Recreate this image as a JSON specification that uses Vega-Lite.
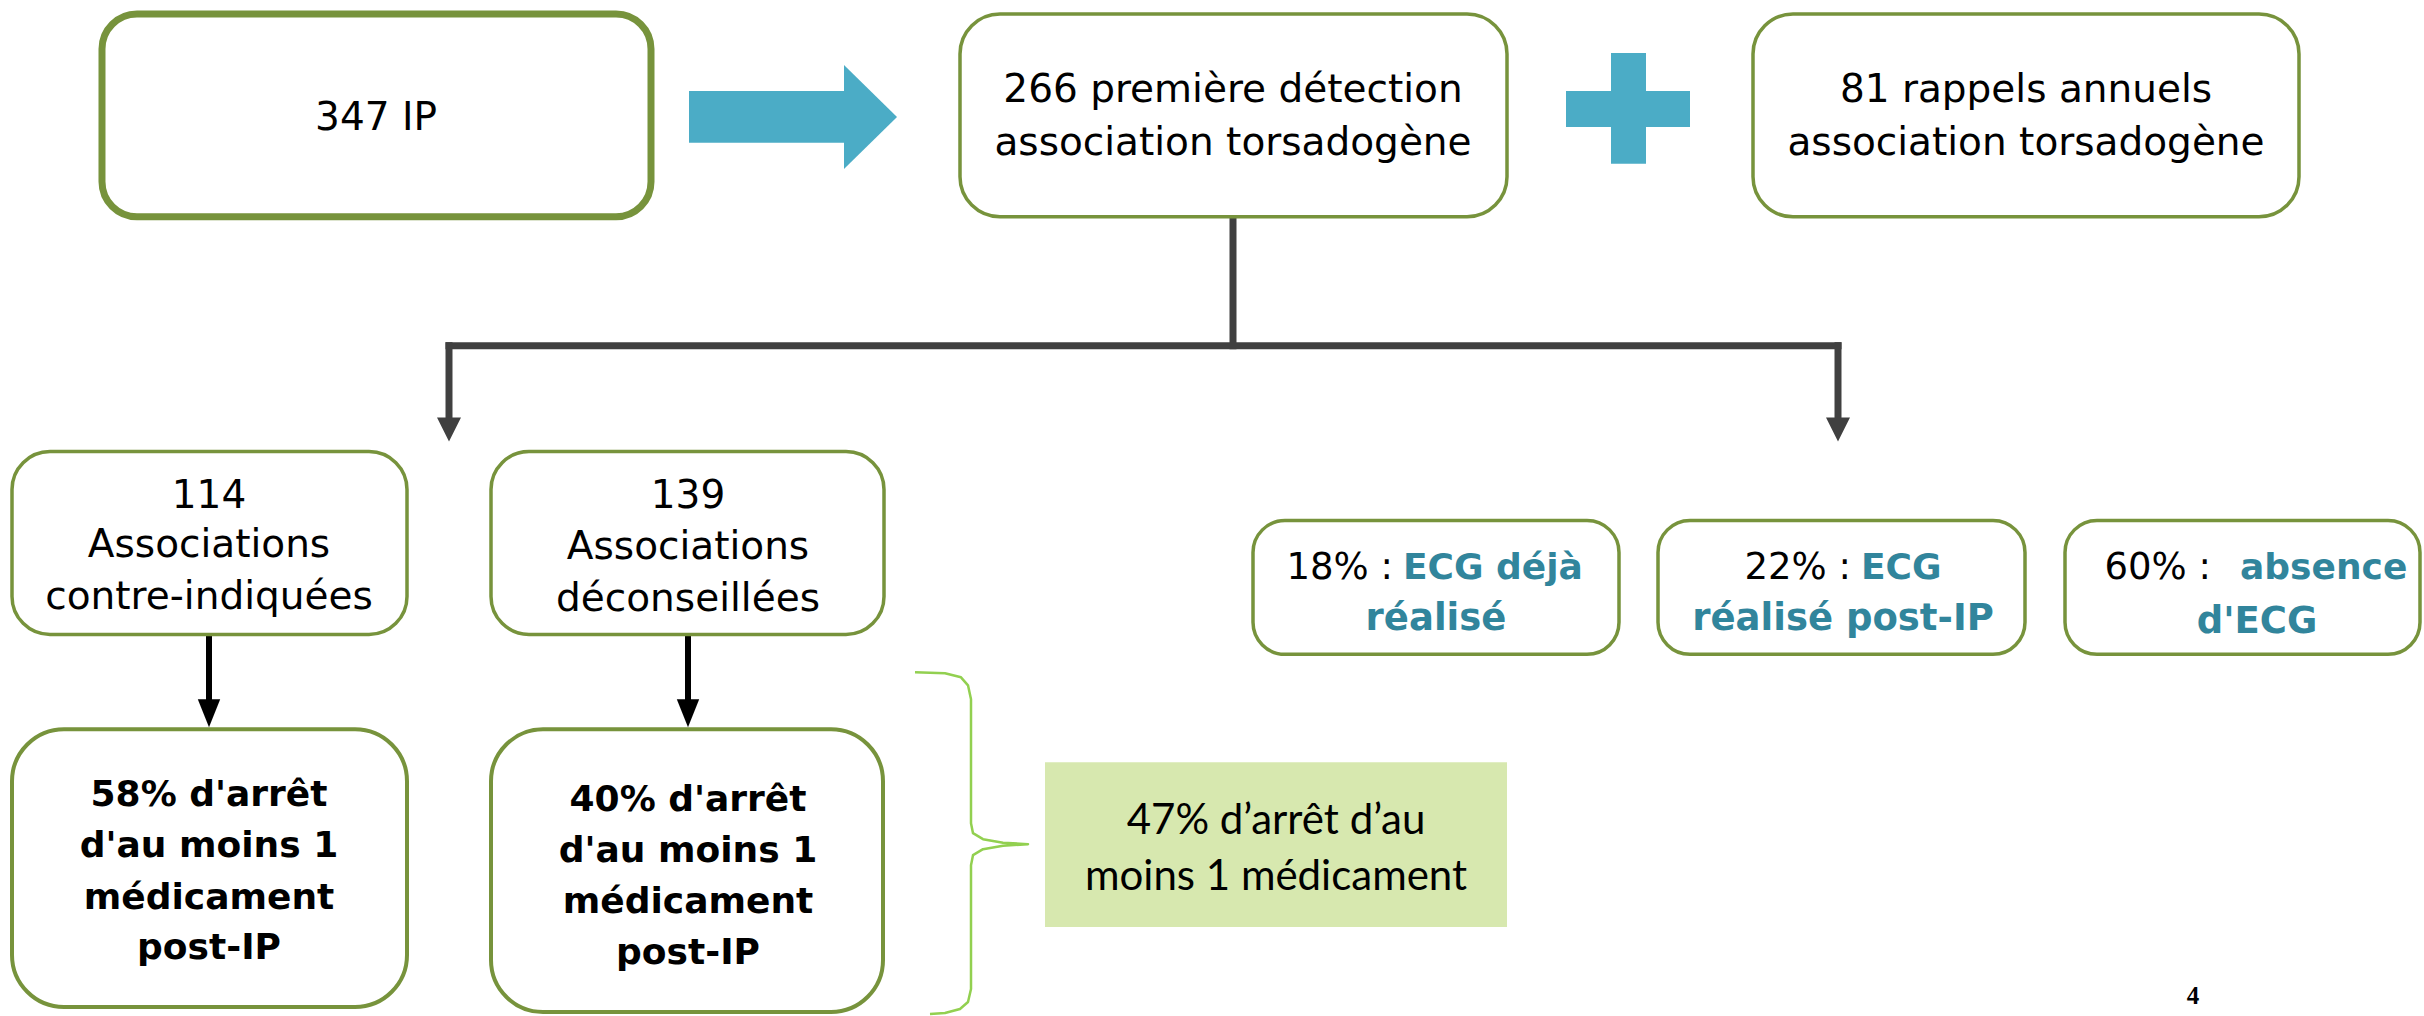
{
  "$schema": "https://vega.github.io/schema/vega-lite/v6.json",
  "width": 2424,
  "height": 1016,
  "autosize": {"type": "fit", "contains": "padding"},
  "padding": 0,
  "background": "white",
  "config": {"view": {"stroke": null}},
  "datasets": {
    "boxes": [
      {"id": "ip", "x": 102, "x2": 651, "y": 14, "y2": 217, "kind": "main"},
      {"id": "first", "x": 960, "x2": 1507, "y": 14, "y2": 217, "kind": "top"},
      {"id": "rappels", "x": 1753, "x2": 2299, "y": 14, "y2": 217, "kind": "top"},
      {"id": "ci", "x": 12, "x2": 407, "y": 452, "y2": 635, "kind": "mid"},
      {"id": "dec", "x": 491, "x2": 884, "y": 452, "y2": 635, "kind": "mid"},
      {"id": "arret_ci", "x": 12, "x2": 407, "y": 730, "y2": 1008, "kind": "bottom"},
      {"id": "arret_dec", "x": 491, "x2": 883, "y": 730, "y2": 1013, "kind": "bottom"},
      {"id": "ecg_deja", "x": 1253, "x2": 1619, "y": 521, "y2": 655, "kind": "ecg"},
      {"id": "ecg_post", "x": 1658, "x2": 2025, "y": 521, "y2": 655, "kind": "ecg"},
      {"id": "ecg_absence", "x": 2065, "x2": 2420, "y": 521, "y2": 655, "kind": "ecg"},
      {"id": "total", "x": 1045, "x2": 1507, "y": 763, "y2": 928, "kind": "summary"},
      {"id": "arrow_shaft", "x": 689, "x2": 846, "y": 91, "y2": 143, "kind": "blue"},
      {"id": "plus_v", "x": 1611, "x2": 1646, "y": 53, "y2": 164, "kind": "blue"},
      {"id": "plus_h", "x": 1566, "x2": 1690, "y": 91, "y2": 127, "kind": "blue"}
    ],
    "rules": [
      {"x": 1233, "y": 217, "x2": 1233, "y2": 346, "kind": "gray"},
      {"x": 449, "y": 346, "x2": 1838, "y2": 346, "kind": "gray"},
      {"x": 449, "y": 346, "x2": 449, "y2": 424, "kind": "gray"},
      {"x": 1838, "y": 346, "x2": 1838, "y2": 424, "kind": "gray"},
      {"x": 209, "y": 636, "x2": 209, "y2": 706, "kind": "black"},
      {"x": 688, "y": 636, "x2": 688, "y2": 706, "kind": "black"}
    ],
    "heads": [
      {"x": 449, "y": 430, "kind": "gray"},
      {"x": 1838, "y": 430, "kind": "gray"},
      {"x": 209, "y": 714, "kind": "black"},
      {"x": 688, "y": 714, "kind": "black"},
      {"x": 870.5, "y": 117, "kind": "blue"}
    ],
    "brace": [
      {"i": 0, "x": 915, "y": 673},
      {"i": 1, "x": 945, "y": 674},
      {"i": 2, "x": 961, "y": 678},
      {"i": 3, "x": 968, "y": 686},
      {"i": 4, "x": 971, "y": 700},
      {"i": 5, "x": 971, "y": 824},
      {"i": 6, "x": 973, "y": 834},
      {"i": 7, "x": 983, "y": 840},
      {"i": 8, "x": 1003, "y": 843.5},
      {"i": 9, "x": 1028, "y": 845},
      {"i": 10, "x": 1003, "y": 846.5},
      {"i": 11, "x": 983, "y": 850},
      {"i": 12, "x": 973, "y": 856},
      {"i": 13, "x": 971, "y": 866},
      {"i": 14, "x": 971, "y": 990},
      {"i": 15, "x": 968, "y": 1003},
      {"i": 16, "x": 960, "y": 1010},
      {"i": 17, "x": 945, "y": 1014},
      {"i": 18, "x": 930, "y": 1015}
    ],
    "texts": [
      {"x": 376, "y": 130, "text": "347 IP", "kind": "reg"},
      {"x": 1233, "y": 102, "text": "266 première détection", "kind": "reg"},
      {"x": 1233, "y": 155, "text": "association torsadogène", "kind": "reg"},
      {"x": 2026, "y": 102, "text": "81 rappels annuels", "kind": "reg"},
      {"x": 2026, "y": 155, "text": "association torsadogène", "kind": "reg"},
      {"x": 209, "y": 508, "text": "114", "kind": "reg"},
      {"x": 209, "y": 558, "text": "Associations", "kind": "reg"},
      {"x": 209, "y": 610, "text": "contre-indiquées", "kind": "reg"},
      {"x": 688, "y": 509, "text": "139", "kind": "reg"},
      {"x": 688, "y": 560, "text": "Associations", "kind": "reg"},
      {"x": 688, "y": 612, "text": "déconseillées", "kind": "reg"},
      {"x": 209, "y": 807, "text": "58% d'arrêt", "kind": "bold"},
      {"x": 209, "y": 858, "text": "d'au moins 1", "kind": "bold"},
      {"x": 209, "y": 910, "text": "médicament", "kind": "bold"},
      {"x": 209, "y": 960, "text": "post-IP", "kind": "bold"},
      {"x": 688, "y": 812, "text": "40% d'arrêt", "kind": "bold"},
      {"x": 688, "y": 863, "text": "d'au moins 1", "kind": "bold"},
      {"x": 688, "y": 914, "text": "médicament", "kind": "bold"},
      {"x": 688, "y": 965, "text": "post-IP", "kind": "bold"},
      {"x": 1276, "y": 835, "text": "47% d’arrêt d’au", "kind": "summary"},
      {"x": 1276, "y": 891, "text": "moins 1 médicament", "kind": "summary"},
      {"x": 1393, "y": 580, "text": "18% :", "kind": "ecgBlack"},
      {"x": 1851, "y": 580, "text": "22% :", "kind": "ecgBlack"},
      {"x": 2211, "y": 580, "text": "60% :", "kind": "ecgBlack"},
      {"x": 1403, "y": 580, "text": "ECG déjà", "kind": "ecgTealL"},
      {"x": 1861, "y": 580, "text": "ECG", "kind": "ecgTealL"},
      {"x": 2240, "y": 580, "text": "absence", "kind": "ecgTealL"},
      {"x": 1436, "y": 631, "text": "réalisé", "kind": "ecgTealC"},
      {"x": 1843, "y": 631, "text": "réalisé post-IP", "kind": "ecgTealC"},
      {"x": 2257, "y": 634, "text": "d'ECG", "kind": "ecgTealC"},
      {"x": 2193, "y": 1005, "text": "4", "kind": "page"}
    ]
  },
  "encoding": {
    "x": {"field": "x", "type": "quantitative", "scale": {"domain": [0, 2424], "nice": false, "zero": false}, "axis": null},
    "y": {"field": "y", "type": "quantitative", "scale": {"domain": [0, 1016], "nice": false, "zero": false, "reverse": true}, "axis": null}
  },
  "layer": [
    {
      "data": {"name": "boxes"},
      "transform": [{"filter": "datum.kind === 'summary'"}],
      "mark": {"type": "rect", "fill": "#D7E8AF", "strokeWidth": 0},
      "encoding": {"x2": {"field": "x2"}, "y2": {"field": "y2"}}
    },
    {
      "data": {"name": "brace"},
      "mark": {"type": "line", "stroke": "#92D050", "strokeWidth": 2.5, "strokeJoin": "round"},
      "encoding": {"order": {"field": "i", "type": "quantitative"}}
    },
    {
      "data": {"name": "rules"},
      "transform": [{"filter": "datum.kind === 'gray'"}],
      "mark": {"type": "rule", "stroke": "#404040", "strokeWidth": 7, "strokeCap": "square"},
      "encoding": {"x2": {"field": "x2"}, "y2": {"field": "y2"}}
    },
    {
      "data": {"name": "rules"},
      "transform": [{"filter": "datum.kind === 'black'"}],
      "mark": {"type": "rule", "stroke": "#000000", "strokeWidth": 6},
      "encoding": {"x2": {"field": "x2"}, "y2": {"field": "y2"}}
    },
    {
      "data": {"name": "boxes"},
      "transform": [{"filter": "datum.kind === 'main'"}],
      "mark": {"type": "rect", "fill": "white", "stroke": "#77933C", "strokeWidth": 7, "cornerRadius": 35},
      "encoding": {"x2": {"field": "x2"}, "y2": {"field": "y2"}}
    },
    {
      "data": {"name": "boxes"},
      "transform": [{"filter": "datum.kind === 'top'"}],
      "mark": {"type": "rect", "fill": "white", "stroke": "#77933C", "strokeWidth": 3.5, "cornerRadius": 40},
      "encoding": {"x2": {"field": "x2"}, "y2": {"field": "y2"}}
    },
    {
      "data": {"name": "boxes"},
      "transform": [{"filter": "datum.kind === 'mid'"}],
      "mark": {"type": "rect", "fill": "white", "stroke": "#77933C", "strokeWidth": 3.5, "cornerRadius": 38},
      "encoding": {"x2": {"field": "x2"}, "y2": {"field": "y2"}}
    },
    {
      "data": {"name": "boxes"},
      "transform": [{"filter": "datum.kind === 'bottom'"}],
      "mark": {"type": "rect", "fill": "white", "stroke": "#77933C", "strokeWidth": 4, "cornerRadius": 52},
      "encoding": {"x2": {"field": "x2"}, "y2": {"field": "y2"}}
    },
    {
      "data": {"name": "boxes"},
      "transform": [{"filter": "datum.kind === 'ecg'"}],
      "mark": {"type": "rect", "fill": "white", "stroke": "#77933C", "strokeWidth": 3.5, "cornerRadius": 32},
      "encoding": {"x2": {"field": "x2"}, "y2": {"field": "y2"}}
    },
    {
      "data": {"name": "boxes"},
      "transform": [{"filter": "datum.kind === 'blue'"}],
      "mark": {"type": "rect", "fill": "#4BACC6", "strokeWidth": 0},
      "encoding": {"x2": {"field": "x2"}, "y2": {"field": "y2"}}
    },
    {
      "data": {"name": "heads"},
      "transform": [{"filter": "datum.kind === 'gray'"}],
      "mark": {"type": "point", "shape": "M-1,-1L1,-1L0,1Z", "size": 576, "filled": true, "fill": "#404040", "opacity": 1, "strokeWidth": 0}
    },
    {
      "data": {"name": "heads"},
      "transform": [{"filter": "datum.kind === 'black'"}],
      "mark": {"type": "point", "shape": "M-0.8,-1L0.8,-1L0,1Z", "size": 784, "filled": true, "fill": "#000000", "opacity": 1, "strokeWidth": 0}
    },
    {
      "data": {"name": "heads"},
      "transform": [{"filter": "datum.kind === 'blue'"}],
      "mark": {"type": "point", "shape": "M-0.51,-1L0.51,0L-0.51,1Z", "size": 10816, "filled": true, "fill": "#4BACC6", "opacity": 1, "strokeWidth": 0}
    },
    {
      "data": {"name": "texts"},
      "transform": [{"filter": "datum.kind === 'reg'"}],
      "mark": {"type": "text", "font": "DejaVu Sans", "fontSize": 39, "align": "center", "baseline": "alphabetic", "color": "black"},
      "encoding": {"text": {"field": "text"}}
    },
    {
      "data": {"name": "texts"},
      "transform": [{"filter": "datum.kind === 'bold'"}],
      "mark": {"type": "text", "font": "DejaVu Sans", "fontWeight": "bold", "fontSize": 36, "align": "center", "baseline": "alphabetic", "color": "black"},
      "encoding": {"text": {"field": "text"}}
    },
    {
      "data": {"name": "texts"},
      "transform": [{"filter": "datum.kind === 'summary'"}],
      "mark": {"type": "text", "font": "Lato", "fontSize": 42, "align": "center", "baseline": "alphabetic", "color": "black"},
      "encoding": {"text": {"field": "text"}}
    },
    {
      "data": {"name": "texts"},
      "transform": [{"filter": "datum.kind === 'ecgBlack'"}],
      "mark": {"type": "text", "font": "DejaVu Sans", "fontSize": 37, "align": "right", "baseline": "alphabetic", "color": "black"},
      "encoding": {"text": {"field": "text"}}
    },
    {
      "data": {"name": "texts"},
      "transform": [{"filter": "datum.kind === 'ecgTealL'"}],
      "mark": {"type": "text", "font": "DejaVu Sans", "fontWeight": "bold", "fontSize": 36, "align": "left", "baseline": "alphabetic", "color": "#31859C"},
      "encoding": {"text": {"field": "text"}}
    },
    {
      "data": {"name": "texts"},
      "transform": [{"filter": "datum.kind === 'ecgTealC'"}],
      "mark": {"type": "text", "font": "DejaVu Sans", "fontWeight": "bold", "fontSize": 37, "align": "center", "baseline": "alphabetic", "color": "#31859C"},
      "encoding": {"text": {"field": "text"}}
    },
    {
      "data": {"name": "texts"},
      "transform": [{"filter": "datum.kind === 'page'"}],
      "mark": {"type": "text", "font": "Liberation Sans Narrow", "fontWeight": "bold", "fontSize": 25, "align": "center", "baseline": "alphabetic", "color": "black"},
      "encoding": {"text": {"field": "text"}}
    }
  ]
}
